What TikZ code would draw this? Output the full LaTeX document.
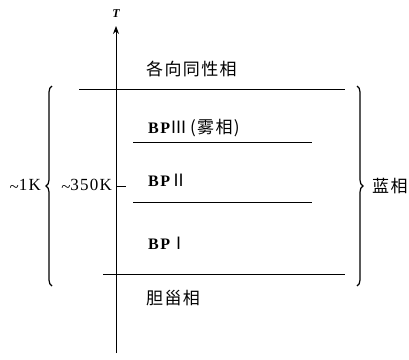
\documentclass[tikz,border=0pt]{standalone}
\usepackage{fontspec}
\setmainfont{Liberation Serif}
\newfontfamily\cjk{Noto Sans CJK SC}
\newfontfamily\cjkw[LetterSpace=8]{Noto Sans CJK SC}
\usetikzlibrary{decorations.pathreplacing,arrows.meta}
\newcommand{\tld}{\raisebox{-0.3ex}{\textasciitilde}}
\begin{document}
\begin{tikzpicture}[x=1pt,y=-1pt,
  lvl/.style={line width=0.8pt},
  lab/.style={anchor=west,inner sep=0pt,font=\fontsize{16}{16}\selectfont\bfseries\addfontfeatures{LetterSpace=10}},
  cj/.style={anchor=west,inner sep=0pt,font=\fontsize{17}{17}\selectfont\cjkw},
  num/.style={anchor=east,inner sep=0pt,font=\fontsize{17}{17}\selectfont\addfontfeatures{LetterSpace=7}},
  brc/.style={decorate,decoration={brace,amplitude=6pt},line width=1.2pt}]
\useasboundingbox (0,0) rectangle (409,359);
\coordinate (ab) at (116,353);
\coordinate (at) at (116,26);
\draw[lvl,-{Stealth[length=8pt,width=6pt]}] (ab) -- (at);
\node[inner sep=0pt,font=\fontsize{12}{12}\selectfont\itshape\bfseries] (T) at (116,14) {T};
\coordinate (l1a) at (79,89);  \coordinate (l1b) at (345,89);
\coordinate (l2a) at (133,142);\coordinate (l2b) at (312,142);
\coordinate (l3a) at (133,202);\coordinate (l3b) at (312,202);
\coordinate (l4a) at (103,274);\coordinate (l4b) at (345,274);
\draw[lvl] (l1a) -- (l1b);
\draw[lvl] (l2a) -- (l2b);
\draw[lvl] (l3a) -- (l3b);
\draw[lvl] (l4a) -- (l4b);
\node[cj] (iso) at (146,69) {各向同性相};
\node[lab] (bp3) at (148,128) {BP{\normalfont\fontsize{17}{17}\selectfont\cjkw Ⅲ\,(雾相)}};
\node[lab] (bp2) at (148,180) {BP{\normalfont\fontsize{17}{17}\selectfont\cjkw Ⅱ}};
\node[lab] (bp1) at (148,243) {BP{\normalfont\fontsize{17}{17}\selectfont\cjkw Ⅰ}};
\node[cj] (ch) at (146,298) {胆甾相};
\coordinate (tk) at (126,186);
\draw[lvl] (116,186) -- (tk);
\node[num] (k350) at (112,186) {\tld350K};
\coordinate (lbt) at (52,86);\coordinate (lbb) at (52,286);
\draw[brc] (lbb) -- (lbt);
\node[num] (k1) at (41,186) {\tld1K};
\coordinate (rbt) at (357,86);\coordinate (rbb) at (357,286);
\draw[brc] (rbt) -- (rbb);
\node[cj] (blue) at (372,186) {蓝相};
\end{tikzpicture}
\end{document}
